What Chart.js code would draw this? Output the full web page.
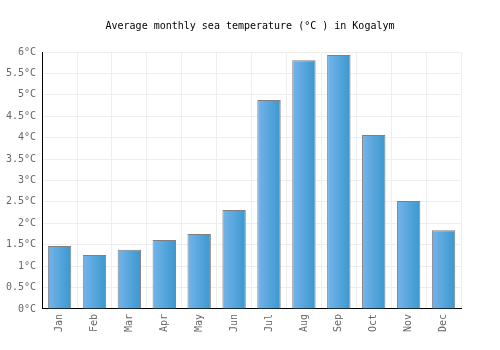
<!DOCTYPE html>
<html>
<head>
<meta charset="utf-8">
<script src="https://cdn.jsdelivr.net/npm/chart.js@4"></script>
<style>
  html, body { margin: 0; padding: 0; background: #fff; }
  #wrap { width: 500px; height: 350px; }
</style>
</head>
<body>
<div id="wrap"><canvas id="chart"></canvas></div>
<script>
const months = ["Jan", "Feb", "Mar", "Apr", "May", "Jun", "Jul", "Aug", "Sep", "Oct", "Nov", "Dec"];
const seaTemp = [1.47, 1.26, 1.38, 1.61, 1.75, 2.31, 4.88, 5.81, 5.93, 4.06, 2.52, 1.84];

const font_family = "'DejaVu Sans Mono', monospace";

// each bar gets its own left-to-right gradient
const barGradient = {
    id: "barGradient",
    beforeDatasetsDraw(chart) {
        const c = chart.ctx;
        chart.getDatasetMeta(0).data.forEach(function (bar) {
            const half = bar.width / 2;
            const g = c.createLinearGradient(bar.x - half, 0, bar.x + half, 0);
            g.addColorStop(0, "#74b4ea");
            g.addColorStop(1, "#3a98cf");
            bar.options.backgroundColor = g;
        });
    }
};

new Chart(document.getElementById("chart"), {
    type: "bar",
    data: {
        labels: months,
        datasets: [{
            data: seaTemp,
            // scriptable so every bar keeps its own options object
            backgroundColor: function () { return "#5aa6de"; },
            borderColor: "#808080",
            borderWidth: 1,
            barPercentage: 0.67,
            categoryPercentage: 1
        }]
    },
    options: {
        responsive: true,
        maintainAspectRatio: false,
        animation: false,
        layout: { padding: { left: 0, right: 0, top: 12, bottom: 13 } },
        plugins: {
            legend: { display: false },
            tooltip: { enabled: false },
            title: {
                display: true,
                text: "Average monthly sea temperature (°C ) in Kogalym",
                color: "#000",
                font: { family: font_family, size: 10, weight: "normal" },
                padding: { top: 8, bottom: 20 }
            }
        },
        scales: {
            x: {
                grid: { color: "#eeeeee", drawTicks: false, offset: true },
                border: { color: "#000", width: 1 },
                ticks: {
                    color: "#666",
                    font: { family: font_family, size: 10 },
                    maxRotation: 90,
                    minRotation: 90,
                    padding: 5
                }
            },
            y: {
                min: 0,
                max: 6,
                grid: { color: "#eeeeee", drawTicks: false },
                border: { color: "#000", width: 1 },
                ticks: {
                    stepSize: 0.5,
                    color: "#666",
                    font: { family: font_family, size: 10 },
                    padding: 6,
                    callback: function (v) { return v + "°C"; }
                }
            },
            // empty right axis, only keeps a blank margin so the title stays centred on the page
            spacer: {
                type: "linear",
                position: "right",
                grid: { display: false },
                border: { display: false },
                ticks: { display: false },
                afterFit: function (s) { s.width = 39; }
            }
        }
    },
    plugins: [barGradient]
});
</script>
</body>
</html>
